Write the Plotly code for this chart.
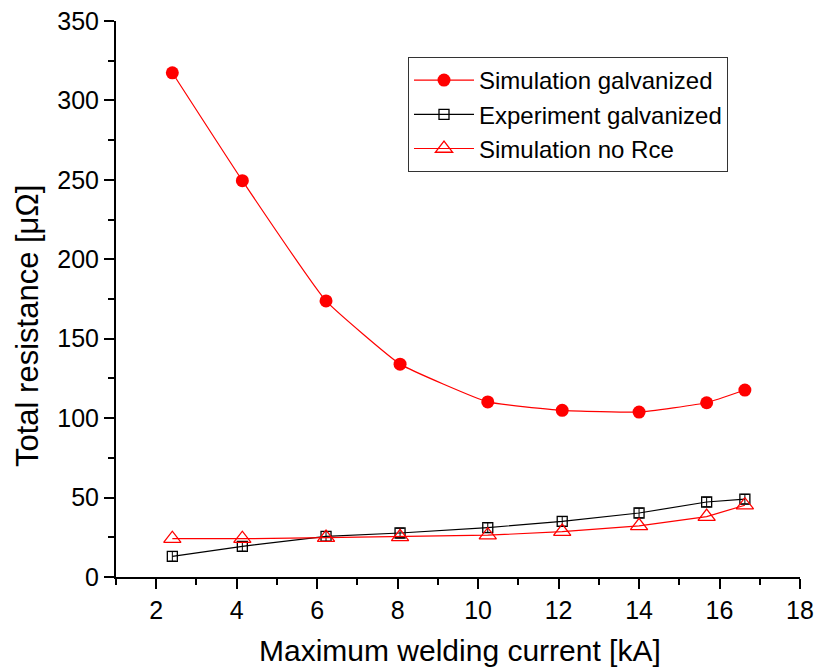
import plotly.graph_objects as go

current = [2.40, 4.14, 6.22, 8.06, 10.24, 12.09, 14.00, 15.68, 16.63]
sim_galv = [317.4, 249.5, 173.8, 134.0, 110.2, 104.9, 103.8, 109.7, 117.7]
exp_galv = [13.0, 19.3, 25.6, 27.7, 31.1, 35.0, 40.3, 47.2, 49.0]
exp_err = [3.0, 3.0, 3.0, 3.0, 3.0, 3.0, 3.0, 3.0, 3.0]
sim_no_rce = [24.1, 24.1, 24.8, 25.3, 26.3, 28.6, 32.2, 38.0, 45.2]

x_ticks = [2, 4, 6, 8, 10, 12, 14, 16, 18]
y_ticks = [0, 50, 100, 150, 200, 250, 300, 350]

FONT = "Liberation Sans, Arial, sans-serif"

fig = go.Figure()
fig.add_trace(go.Scatter(
    x=current, y=sim_galv, name="Simulation galvanized",
    mode="lines+markers",
    line=dict(color="#ff0000", width=1.2, shape="spline", smoothing=0.35),
    marker=dict(symbol="circle", size=13, color="#ff0000"),
))
fig.add_trace(go.Scatter(
    x=current, y=exp_galv, name="Experiment galvanized",
    mode="lines+markers",
    line=dict(color="#000000", width=1.2),
    marker=dict(symbol="square-open", size=10, color="#000000", line=dict(width=1.3)),
    error_y=dict(type="data", array=exp_err, color="#000000", thickness=1, width=4),
))
fig.add_trace(go.Scatter(
    x=current, y=sim_no_rce, name="Simulation no Rce",
    mode="lines+markers",
    line=dict(color="#ff0000", width=1.2),
    marker=dict(symbol="triangle-up-open", size=15, color="#ff0000", line=dict(width=1.3)),
))

axis_common = dict(
    showline=True, linecolor="black", linewidth=2,
    ticks="outside", ticklen=10, tickwidth=2, tickcolor="black",
    showgrid=False, zeroline=False, mirror=False, automargin=False,
    tickfont=dict(family=FONT, size=25, color="black"),
)

fig.update_xaxes(
    range=[1, 18], tickmode="array", tickvals=x_ticks,
    minor=dict(ticks="outside", ticklen=6, tickwidth=2, tickcolor="black", dtick=1, tick0=1, showgrid=False),
    **axis_common,
)
fig.update_yaxes(
    range=[0, 350], tickmode="array", tickvals=y_ticks,
    minor=dict(ticks="outside", ticklen=6, tickwidth=2, tickcolor="black", dtick=25, tick0=0, showgrid=False),
    **axis_common,
)

fig.update_layout(
    width=817, height=668,
    margin=dict(l=116, r=17, t=21, b=91, autoexpand=False),
    plot_bgcolor="white", paper_bgcolor="white",
    font=dict(family=FONT, color="black"),
    showlegend=True,
    legend=dict(
        x=(408 - 116) / 684, y=(577 - 57) / 556, xanchor="left", yanchor="top",
        bgcolor="white", bordercolor="#333333", borderwidth=1,
        font=dict(family=FONT, size=24, color="black"),
        itemwidth=60, tracegroupgap=0,
    ),
    annotations=[
        dict(text="Maximum welding current [kA]", xref="paper", yref="paper",
             x=(460 - 116) / 684, y=(577 - 650) / 556, xanchor="center", yanchor="middle",
             showarrow=False, font=dict(family=FONT, size=30, color="black")),
        dict(text="Total resistance [μΩ]", xref="paper", yref="paper",
             x=(28 - 116) / 684, y=(577 - 326) / 556, xanchor="center", yanchor="middle",
             textangle=-90, showarrow=False, font=dict(family=FONT, size=31, color="black")),
    ],
)

fig.write_html(
    "out.html",
    config={"displayModeBar": False},
    post_script="document.body.style.margin='0';document.body.style.overflow='hidden';",
)
